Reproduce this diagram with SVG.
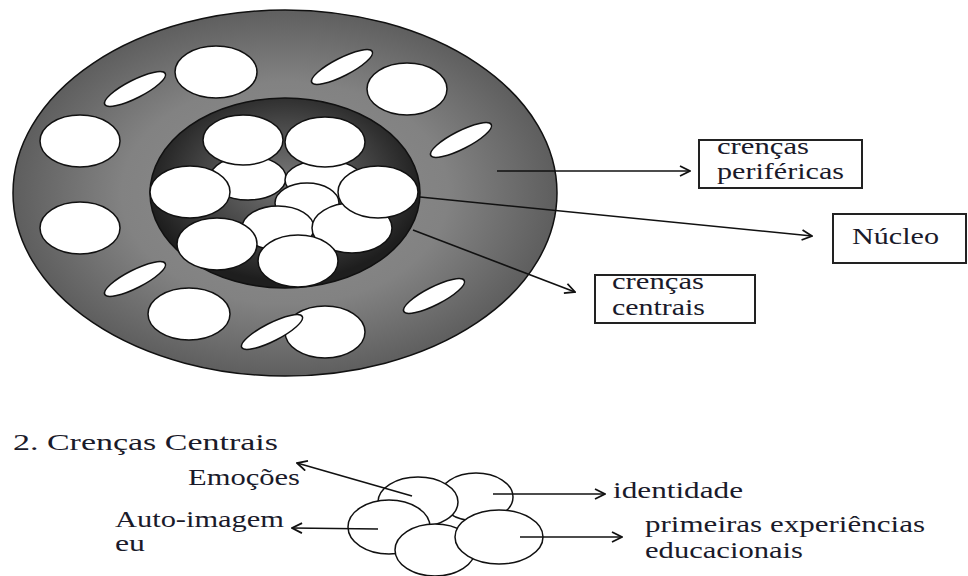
<svg xmlns="http://www.w3.org/2000/svg" width="968" height="576" viewBox="0 0 968 576">
<defs>
<radialGradient id="ringGrad" cx="285" cy="193" r="272" gradientUnits="userSpaceOnUse" gradientTransform="translate(285 193) scale(1 0.68) translate(-285 -193)">
<stop offset="0" stop-color="#8e8e8e"/>
<stop offset="0.6" stop-color="#828282"/>
<stop offset="1" stop-color="#5e5e5e"/>
</radialGradient>
<radialGradient id="coreGrad" cx="285" cy="180" r="140" gradientUnits="userSpaceOnUse" gradientTransform="translate(285 180) scale(1 0.72) translate(-285 -180)">
<stop offset="0" stop-color="#777"/>
<stop offset="0.6" stop-color="#444"/>
<stop offset="1" stop-color="#1e1e1e"/>
</radialGradient>
<marker id="arr" viewBox="0 0 12 12" refX="11" refY="6" markerWidth="12" markerHeight="12" markerUnits="userSpaceOnUse" orient="auto">
<path d="M1,1 L11,6 L1,11" fill="none" stroke="#111" stroke-width="1.8"/>
</marker>
</defs>
<style>
.w{fill:#fff;stroke:#111;stroke-width:1.5}
.box{fill:#fff;stroke:#222;stroke-width:2}
.t{font-family:"Liberation Serif","DejaVu Serif",serif;font-size:23px;fill:#1a1a2a}
.ln{fill:none;stroke:#111;stroke-width:1.6;marker-end:url(#arr)}
</style>
<rect width="968" height="576" fill="#fff"/>

<g id="figure-top">
<ellipse id="outer-ring" cx="285" cy="193" rx="272" ry="183" fill="url(#ringGrad)" stroke="#111" stroke-width="1.5"/>
<g id="peripheral-beliefs">
<ellipse class="w" cx="216" cy="72" rx="41" ry="26"/>
<ellipse class="w" cx="407" cy="89" rx="40" ry="26"/>
<ellipse class="w" cx="80" cy="141" rx="40" ry="26"/>
<ellipse class="w" cx="80" cy="228" rx="40" ry="26"/>
<ellipse class="w" cx="189" cy="314" rx="41" ry="26"/>
<ellipse class="w" cx="325" cy="332" rx="40" ry="26"/>
<ellipse class="w" cx="135" cy="89" rx="34" ry="9" transform="rotate(-27 135 89)"/>
<ellipse class="w" cx="342" cy="67" rx="34" ry="9" transform="rotate(-27 342 67)"/>
<ellipse class="w" cx="461" cy="140" rx="34" ry="9" transform="rotate(-27 461 140)"/>
<ellipse class="w" cx="135" cy="279" rx="34" ry="9" transform="rotate(-27 135 279)"/>
<ellipse class="w" cx="434" cy="296" rx="34" ry="9" transform="rotate(-27 434 296)"/>
<ellipse class="w" cx="272" cy="332" rx="34" ry="9" transform="rotate(-27 272 332)"/>
</g>
<ellipse id="core" cx="285" cy="193" rx="135" ry="95" fill="url(#coreGrad)" stroke="#111" stroke-width="1.5"/>
<g id="central-beliefs">
<ellipse class="w" cx="248" cy="178" rx="38" ry="22"/>
<ellipse class="w" cx="324" cy="180" rx="39" ry="20"/>
<ellipse class="w" cx="307" cy="203" rx="32" ry="20"/>
<ellipse class="w" cx="278" cy="228" rx="36" ry="22"/>
<ellipse class="w" cx="352" cy="228" rx="40" ry="25"/>
<ellipse class="w" cx="243" cy="140" rx="40" ry="25"/>
<ellipse class="w" cx="325" cy="142" rx="40" ry="25"/>
<ellipse class="w" cx="190" cy="192" rx="40" ry="26"/>
<ellipse class="w" cx="378" cy="192" rx="40" ry="26"/>
<ellipse class="w" cx="217" cy="244" rx="40" ry="26"/>
<ellipse class="w" cx="298" cy="261" rx="40" ry="26"/>
</g>
</g>

<g id="node-perifericas">
<rect class="box" x="699" y="140" width="163" height="48"/>
<text class="t" x="717" y="154" textLength="92" lengthAdjust="spacingAndGlyphs">crenças</text>
<text class="t" x="717" y="179" textLength="127" lengthAdjust="spacingAndGlyphs">periféricas</text>
</g>
<g id="node-nucleo">
<rect class="box" x="833" y="214" width="133" height="49"/>
<text class="t" x="852" y="244" textLength="87" lengthAdjust="spacingAndGlyphs">Núcleo</text>
</g>
<g id="node-centrais">
<rect class="box" x="595" y="275" width="160" height="48"/>
<text class="t" x="612" y="289" textLength="92" lengthAdjust="spacingAndGlyphs">crenças</text>
<text class="t" x="612" y="315" textLength="93" lengthAdjust="spacingAndGlyphs">centrais</text>
</g>

<g id="title">
<text class="t" x="13" y="450" font-size="24" textLength="265" lengthAdjust="spacingAndGlyphs">2. Crenças Centrais</text>
</g>

<g id="figure-bottom">
<ellipse class="w" cx="476" cy="497" rx="37" ry="24"/>
<ellipse class="w" cx="418" cy="502" rx="40" ry="25"/>
<ellipse class="w" cx="389" cy="527" rx="41" ry="27"/>
<ellipse class="w" cx="435" cy="550" rx="40" ry="26"/>
<ellipse class="w" cx="499" cy="537" rx="44" ry="27"/>
</g>

<g id="node-emocoes"><text class="t" x="188" y="485" textLength="112" lengthAdjust="spacingAndGlyphs">Emoções</text></g>
<g id="node-autoimagem">
<text class="t" x="115" y="527" textLength="169" lengthAdjust="spacingAndGlyphs">Auto-imagem</text>
<text class="t" x="115" y="551" textLength="30" lengthAdjust="spacingAndGlyphs">eu</text>
</g>
<g id="node-identidade"><text class="t" x="613" y="498" textLength="130" lengthAdjust="spacingAndGlyphs">identidade</text></g>
<g id="node-experiencias">
<text class="t" x="645" y="532" textLength="280" lengthAdjust="spacingAndGlyphs">primeiras experiências</text>
<text class="t" x="645" y="558" textLength="158" lengthAdjust="spacingAndGlyphs">educacionais</text>
</g>

<g id="connectors">
<line class="ln" x1="497" y1="171" x2="690" y2="171"/>
<line class="ln" x1="420" y1="197" x2="812" y2="236"/>
<line class="ln" x1="413" y1="230" x2="575" y2="292"/>
<line class="ln" x1="412" y1="496" x2="297" y2="463"/>
<line class="ln" x1="378" y1="529" x2="292" y2="528"/>
<line class="ln" x1="493" y1="494" x2="605" y2="494"/>
<line class="ln" x1="520" y1="537" x2="622" y2="537"/>
</g>
</svg>
